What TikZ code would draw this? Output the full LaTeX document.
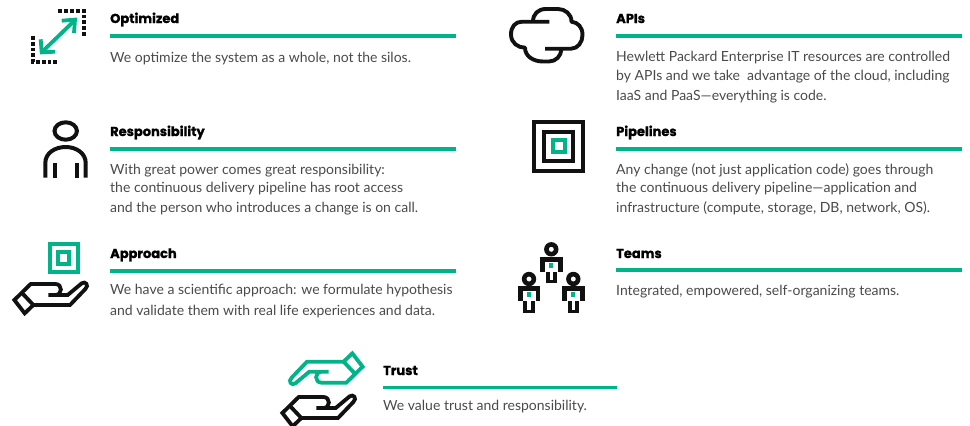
\documentclass[tikz,border=0pt]{standalone}
\usepackage{fontspec}
\setmainfont{Lato}
\newfontfamily\headfont[BoldFeatures={FakeBold=1.3}]{Poppins}
\definecolor{hpegreen}{HTML}{00B388}
\definecolor{ink}{HTML}{111111}
\definecolor{bodytext}{HTML}{4A4A4A}
\tikzset{
  head/.style={anchor=base west,inner sep=0pt,font=\headfont\bfseries\fontsize{13}{14}\selectfont,text=black},
  bodyt/.style={anchor=base west,inner sep=0pt,align=left,font=\fontsize{14}{18.2}\selectfont,text=bodytext},
  rulex/.style={draw=hpegreen,line width=3.8pt},
  iconk/.style={draw=ink,line width=3.6pt,fill=none,line join=miter},
  icong/.style={draw=hpegreen,line width=3.8pt,fill=none,line join=miter},
  pics/hand/.style={code={
    \begin{scope}[x=0.3333pt,y=-0.3333pt]
      \draw[#1,line width=3.8pt,line join=miter]
        (107,-15) -- (165,-15) -- (207,-50)
        .. controls (218,-58) and (230,-44) .. (218,-33)
        -- (172,15) -- (62,15) -- (36,40) -- (5,0) -- (54,-48) -- (128,-48)
        .. controls (150,-48) and (150,-15) .. (128,-15);
      \draw[#1,line width=3.8pt] (28,-21) -- (62,15);
    \end{scope}
  }},
  pics/hpeperson/.style={code={
    \fill[ink,even odd rule] (0,0) circle (7.2) (0,0) circle (2.6);
    \fill[ink] (-11.3,7.3) rectangle (11.3,12.3);
    \fill[ink] (-11.3,7.3) rectangle (-6.5,22.3);
    \fill[ink] (11.3,7.3) rectangle (6.5,22.3);
    \fill[ink] (-5.7,22.3) rectangle (-1.8,34);
    \fill[ink] (5.7,22.3) rectangle (1.8,34);
    \fill[ink] (-5.7,30.5) rectangle (5.7,34);
    \fill[hpegreen] (-2,13.3) rectangle (2,18.3);
  }}
}
\begin{document}
\begin{tikzpicture}[x=1pt,y=-1pt]
\useasboundingbox (0,0) rectangle (970,426);
% left column text
\node[head] (t1) at (110,23) {Optimized};
\coordinate (r1a) at (110,36.3); \coordinate (r1b) at (456,36.3);
\draw[rulex] (r1a) -- (r1b);
\node[bodyt] (b1) at (110,62) {We optimize the system as a whole, not the silos.};
\node[head] (t2) at (110,136) {Responsibility};
\coordinate (r2a) at (110,149.3); \coordinate (r2b) at (456,149.3);
\draw[rulex] (r2a) -- (r2b);
\node[bodyt] (b2a) at (110,174) {With great power comes great responsibility:};
\node[bodyt] (b2b) at (110,192) {the continuous delivery pipeline has root access};
\node[bodyt] (b2c) at (110,212) {and the person who introduces a change is on call.};
\node[head] (t3) at (110,258) {Approach};
\coordinate (r3a) at (110,271); \coordinate (r3b) at (456,271);
\draw[rulex] (r3a) -- (r3b);
\node[bodyt] (b3a) at (110,294) {We have a scientific approach: we formulate hypothesis};
\node[bodyt] (b3b) at (110,315) {and validate them with real life experiences and data.};
% right column text
\node[head] (t4) at (616,23) {APIs};
\coordinate (r4a) at (616,36.3); \coordinate (r4b) at (962,36.3);
\draw[rulex] (r4a) -- (r4b);
\node[bodyt] (b4a) at (616,61) {Hewlett Packard Enterprise IT resources are controlled};
\node[bodyt] (b4b) at (616,80) {by APIs and we take\ \ advantage of the cloud, including};
\node[bodyt] (b4c) at (616,100) {IaaS and PaaS—everything is code.};
\node[head] (t5) at (616,136) {Pipelines};
\coordinate (r5a) at (616,149.3); \coordinate (r5b) at (962,149.3);
\draw[rulex] (r5a) -- (r5b);
\node[bodyt] (b5a) at (616,174) {Any change (not just application code) goes through};
\node[bodyt] (b5b) at (616,192) {the continuous delivery pipeline—application and};
\node[bodyt] (b5c) at (616,212) {infrastructure (compute, storage, DB, network, OS).};
\node[head] (t6) at (616,258) {Teams};
\coordinate (r6a) at (616,270); \coordinate (r6b) at (962,270);
\draw[rulex] (r6a) -- (r6b);
\node[bodyt] (b6) at (616,295) {Integrated, empowered, self-organizing teams.};
% bottom
\node[head] (t7) at (383,375) {Trust};
\coordinate (r7a) at (383,387.5); \coordinate (r7b) at (617,387.5);
\draw[rulex] (r7a) -- (r7b);
\node[bodyt] (b7) at (383,410) {We value trust and responsibility.};
% optimized icon
\draw[ink,line width=4pt,dash pattern=on 3.8pt off 2pt] (58.3,11.3) -- (84,11.3) -- (84,37);
\draw[ink,line width=4pt,dash pattern=on 3.8pt off 2pt] (33,36) -- (33,62) -- (59,62);
\draw[hpegreen,line width=3.8pt] (43,51) -- (74,21);
\draw[hpegreen,line width=3.8pt] (61.7,20.7) -- (75,19.6) -- (74,33);
\draw[hpegreen,line width=3.8pt] (40.7,39.3) -- (41.7,52.4) -- (55,51.7);
% person icon
\draw[ink,line width=4pt] (65.7,131) ellipse (11.2 and 8.7);
\draw[ink,line width=4pt] (45.3,177.5) -- (45.3,163) .. controls (45.3,153) and (55,147) .. (65.7,147) .. controls (76,147) and (85.7,153) .. (85.7,163) -- (85.7,177.5);
\draw[ink,line width=3.6pt] (55,163) -- (55,177.5);
\draw[ink,line width=3.6pt] (77,163) -- (77,177.5);
% approach icon
\draw[icong] (49.7,243.9) rectangle (77.7,272);
\draw[icong,line width=4pt] (58,252.3) rectangle (69.3,263.6);
% hands
\pic at (12.7,300) {hand={ink}};
\pic at (280.7,413) {hand={ink}};
\pic[rotate=180] at (364.3,366.7) {hand={hpegreen}};
% cloud
\draw[ink,line width=3.9pt,line join=round]
  (549.3,21.7) -- (522,21.7)
  .. controls (515,21.7) and (511,27) .. (511,34.5)
  .. controls (511,43) and (518,47.7) .. (525,47.7)
  .. controls (525,56) and (533,61.5) .. (543,61.5)
  -- (549,61.5)
  .. controls (556,61.5) and (561,56) .. (561.5,49);
\draw[ink,line width=3.9pt,line join=round]
  (545,48.7) -- (571,48.7)
  .. controls (578,48.7) and (582.5,42) .. (582.5,35)
  .. controls (582.5,27) and (578,22.5) .. (571.5,21.7)
  .. controls (571.5,14) and (565,9) .. (558,9)
  -- (546,9)
  .. controls (538,9) and (533,14) .. (533,21.7);
% pipelines icon
\draw[iconk] (534,121.7) rectangle (583,170.7);
\draw[iconk,line width=3.8pt] (544,131.7) rectangle (573,160.7);
\draw[icong,line width=4pt] (552.5,140) rectangle (564.5,152);
% teams icon
\pic at (551.3,249.3) {hpeperson};
\pic at (529,279) {hpeperson};
\pic at (573.3,279) {hpeperson};
\end{tikzpicture}
\end{document}
